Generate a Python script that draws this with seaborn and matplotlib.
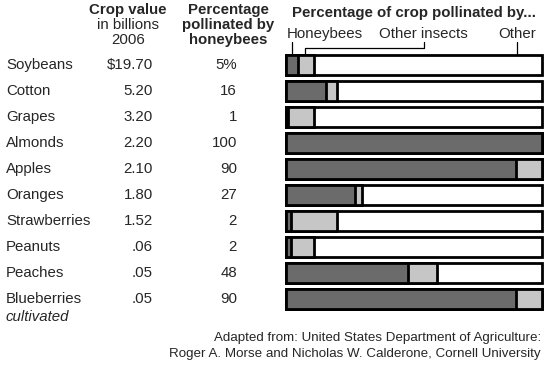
import matplotlib.pyplot as plt
import matplotlib.transforms as mtransforms
import pandas as pd
import seaborn as sns

CROPS = ['Soybeans', 'Cotton', 'Grapes', 'Almonds', 'Apples', 'Oranges',
         'Strawberries', 'Peanuts', 'Peaches', 'Blueberries']
CROP_VALUES = ['$19.70', '5.20', '3.20', '2.20', '2.10', '1.80', '1.52', '.06', '.05', '.05']
HONEYBEES = [5, 16, 1, 100, 90, 27, 2, 2, 48, 90]
OTHER_INSECTS = [6, 4, 10, 0, 10, 3, 18, 9, 11, 10]

W, H = 554, 371
DARK = '#6b6b6b'
LIGHT = '#c6c6c6'
FS = 10.8


def fx(x):
    return x / W


def fy(y):
    return 1 - y / H


df = pd.DataFrame({'crop': CROPS, 'bees': HONEYBEES, 'insects': OTHER_INSECTS})
df['insects_cum'] = df['bees'] + df['insects']
df['total'] = 100

sns.set_style('white')
plt.rcParams['font.family'] = ['Liberation Sans', 'DejaVu Sans']

fig = plt.figure(figsize=(W / 100, H / 100), dpi=100)
ax = fig.add_axes([fx(285.5), fy(312), (541.5 - 285.5) / W, 260 / H])

# stacked look: draw widest layer first, narrower ones on top
for col, colr in [('total', 'white'), ('insects_cum', LIGHT), ('bees', DARK)]:
    sns.barplot(data=df, x=col, y='crop', orient='h', color=colr,
                edgecolor='black', linewidth=2.0, width=0.75, ax=ax)

for p in ax.patches:
    p.set_clip_on(False)

ax.set_xlim(0, 100)
ax.set_ylim(len(CROPS) - 0.5, -0.5)
ax.set_axis_off()

# table text, rows follow the bar axis
tr = mtransforms.blended_transform_factory(fig.transFigure, ax.transData)
for i, (crop, val, pct) in enumerate(zip(CROPS, CROP_VALUES, HONEYBEES)):
    ax.text(fx(6), i, crop, transform=tr, ha='left', va='center', fontsize=FS)
    ax.text(fx(153), i, val, transform=tr, ha='right', va='center', fontsize=FS)
    ptxt = '{}%'.format(pct) if i == 0 else str(pct)
    ax.text(fx(237), i, ptxt, transform=tr, ha='right', va='center', fontsize=FS)
ax.text(fx(6), len(CROPS) - 1 + 0.7, 'cultivated', transform=tr, ha='left',
        va='center', fontsize=FS, style='italic')

# column headers
fig.text(fx(128), fy(10), 'Crop value', ha='center', va='center', fontsize=FS, weight='bold')
fig.text(fx(128), fy(25), 'in billions', ha='center', va='center', fontsize=FS)
fig.text(fx(128), fy(40), '2006', ha='center', va='center', fontsize=FS)
for k, line in enumerate(['Percentage', 'pollinated by', 'honeybees']):
    fig.text(fx(228), fy(10 + 15 * k), line, ha='center', va='center', fontsize=FS, weight='bold')
fig.text(fx(414), fy(12.5), 'Percentage of crop pollinated by...', ha='center',
         va='center', fontsize=FS, weight='bold')

# segment labels with leader lines
fig.text(fx(287), fy(34), 'Honeybees', ha='left', va='center', fontsize=FS)
fig.text(fx(423.5), fy(34), 'Other insects', ha='center', va='center', fontsize=FS)
fig.text(fx(536), fy(34), 'Other', ha='right', va='center', fontsize=FS)
leaders = [
    ([291.7, 291.7], [41.7, 54]),
    ([305, 305, 424, 424], [54, 48.3, 48.3, 41.7]),
    ([517.3, 517.3], [41.7, 54]),
]
for xs, ys in leaders:
    fig.add_artist(plt.Line2D([fx(x) for x in xs], [fy(y) for y in ys],
                              color='black', linewidth=0.9))

fig.text(fx(541), fy(338), 'Adapted from: United States Department of Agriculture:',
         ha='right', va='center', fontsize=9.6)
fig.text(fx(541), fy(354), 'Roger A. Morse and Nicholas W. Calderone, Cornell University',
         ha='right', va='center', fontsize=9.6)

fig.savefig('out.png', dpi=100)
